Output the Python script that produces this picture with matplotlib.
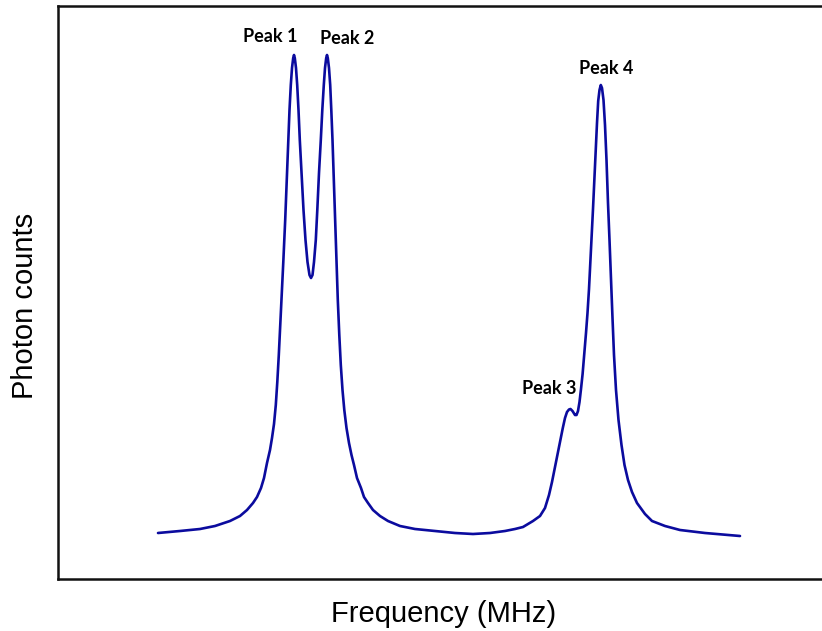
"""Photon counts vs frequency: two resolved doublets (peaks 1-4)."""

import matplotlib
matplotlib.use("Agg")
import matplotlib.pyplot as plt


# Curve, arbitrary units (no ticks are shown)
FREQ = [
    158, 180, 200, 215, 230, 240, 247, 253, 257, 261, 264, 267, 270, 272,
    274, 275.8, 277.3, 278.8, 280.2, 281.7, 283.3, 285.2, 286.8, 288.3,
    289.5, 290.8, 292, 293.2, 294, 294.8, 296, 297.2, 298.5, 299.8, 301.5,
    303.5, 305.5, 307.5, 309.5, 311, 312.5, 314, 315.8, 317.3, 319, 320.8,
    322.3, 323.8, 325, 326.2, 327, 327.8, 329, 330.2, 331.3, 332.5, 333.8,
    335, 336.3, 337.8, 339.3, 340.8, 342.5, 344.3, 346.5, 349, 351.5, 354,
    357, 361, 364, 368, 373, 380, 388, 400, 415, 435, 455, 473, 490, 505,
    515, 523, 533, 540, 545, 549, 552, 555, 558, 560.5, 562.8, 565, 567,
    569, 570.5, 572.5, 575, 576.5, 578, 579.5, 581, 582.6, 584.3, 586,
    587.5, 589, 591, 593, 595, 597, 598.2, 599.5, 600.8, 602, 603.5, 605,
    606.5, 608, 609.5, 611, 612.5, 614, 616, 618.5, 621.5, 624.5, 628, 632,
    637, 645, 652, 665, 680, 705, 740,
]
COUNTS = [
    46, 48, 50, 53, 58, 63, 69, 76, 82, 91, 101, 116, 129, 141,
    155, 174, 197, 224, 254, 284, 317, 359, 399, 439,
    469, 494, 511, 521, 524, 521, 511, 494, 469, 439, 406,
    369, 339, 317, 304, 301, 304, 317, 339, 369, 406, 439,
    469, 494, 511, 521, 524, 521, 511, 494, 469, 439, 399,
    359, 319, 279, 244, 214, 189, 169, 151, 136, 124, 114,
    101, 91, 82, 76, 69, 63, 58, 53, 50, 48, 46, 45, 46, 48,
    50, 52, 58, 63, 71, 84, 97, 112, 127, 139, 151, 161, 167,
    169.5, 170, 168, 164, 164, 168, 177, 190, 205, 225, 246,
    266, 290, 330, 370, 414, 456, 478, 489, 494, 491, 479, 454,
    419, 376, 339, 299, 261, 224, 189, 159, 134, 114, 99, 87,
    76, 65, 58, 53, 49, 46, 43,
]

PEAK_LABELS = ["Peak 1", "Peak 2", "Peak 3", "Peak 4"]
LABEL_X = [270, 347, 549, 606]
LABEL_Y = [543, 541, 191, 510]

LINE_COLOR = "#0b0b9e"

fig = plt.figure(figsize=(8.22, 6.31), dpi=100)
# right spine sits just past the image edge, as in the reference
ax = fig.add_axes([58 / 822, 52 / 631, (831 - 58) / 822, 573 / 631])

ax.plot(FREQ, COUNTS, color=LINE_COLOR, lw=1.9, solid_joinstyle="round",
        solid_capstyle="round")

for label, x, y in zip(PEAK_LABELS, LABEL_X, LABEL_Y):
    ax.text(x, y, label, ha="center", va="center", fontsize=13,
            fontweight="bold", family="Lato", color="black")

ax.set_xlim(58, 831)
ax.set_ylim(0, 573)
ax.set_xticks([])
ax.set_yticks([])
for spine in ax.spines.values():
    spine.set_linewidth(1.8)
    spine.set_color("#111111")

fig.text(444 / 822, 9 / 631, "Frequency (MHz)", ha="center", va="baseline",
         fontsize=21, family="Liberation Sans")
fig.text(25 / 822, 325 / 631, "Photon counts", ha="center", va="center",
         rotation=90, fontsize=21, family="Liberation Sans")

fig.savefig("out.png", dpi=100, facecolor="white")
